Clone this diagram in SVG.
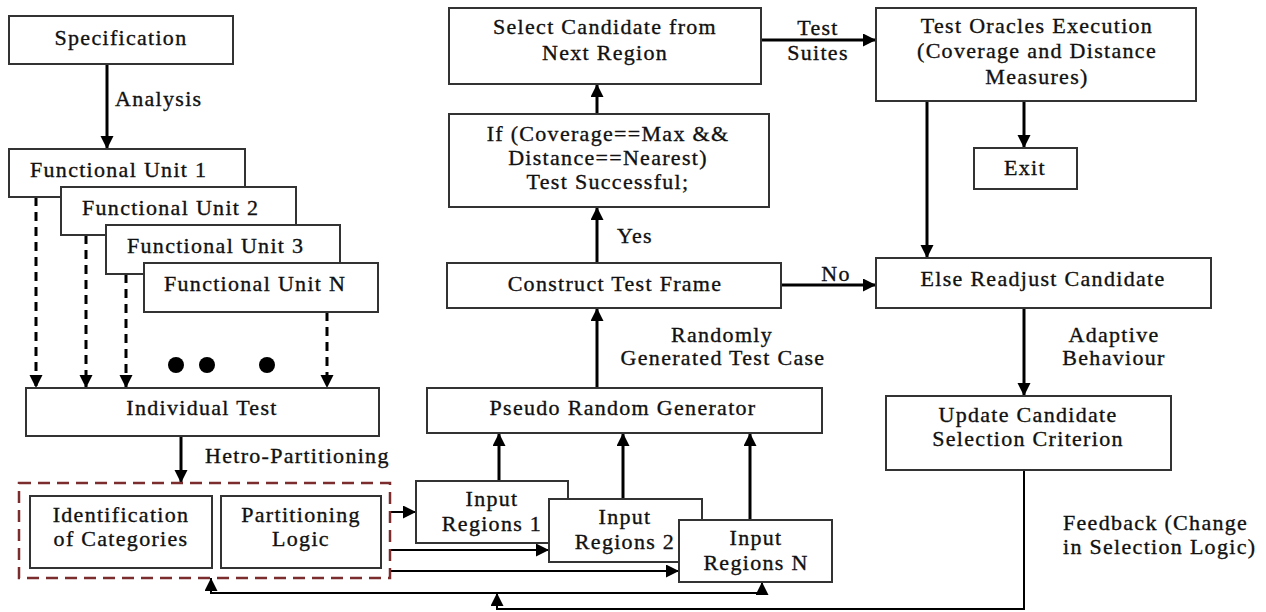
<svg xmlns="http://www.w3.org/2000/svg" width="1266" height="612" viewBox="0 0 1266 612">
<style>
.box{fill:#fff;stroke:#333;stroke-width:2}
.t{font-family:"Liberation Serif","Times New Roman",serif;font-size:22px;fill:#111;letter-spacing:1.3px;stroke:#111;stroke-width:0.35}
.c{text-anchor:middle}
.a{fill:none;stroke:#000;stroke-width:3}
.a2{fill:none;stroke:#000;stroke-width:2}
.d{fill:none;stroke:#000;stroke-width:3;stroke-dasharray:9 6}
</style>
<defs>
<marker id="ah" markerUnits="userSpaceOnUse" markerWidth="14" markerHeight="14" refX="13" refY="6.5" orient="auto">
<path d="M0,0 L13,6.5 L0,13 z" fill="#000"/>
</marker>
</defs>
<g id="connectors">
<path class="a" d="M107,64 V149" marker-end="url(#ah)"/>
<path class="d" d="M36,197 V388" marker-end="url(#ah)"/>
<path class="d" d="M86,235 V388" marker-end="url(#ah)"/>
<path class="d" d="M126,274 V388" marker-end="url(#ah)"/>
<path class="d" d="M327,312 V388" marker-end="url(#ah)"/>
<path class="a" d="M181,436 V483" marker-end="url(#ah)"/>
<path class="a2" d="M390,512 H416" marker-end="url(#ah)"/>
<path class="a2" d="M390,550 H549" marker-end="url(#ah)"/>
<path class="a2" d="M390,571 H679" marker-end="url(#ah)"/>
<path class="a" d="M499,481 V433" marker-end="url(#ah)"/>
<path class="a" d="M623,499 V433" marker-end="url(#ah)"/>
<path class="a" d="M750,520 V433" marker-end="url(#ah)"/>
<path class="a" d="M597,388 V308" marker-end="url(#ah)"/>
<path class="a" d="M597,263 V207" marker-end="url(#ah)"/>
<path class="a" d="M597,114 V84" marker-end="url(#ah)"/>
<path class="a" d="M761,40 H876" marker-end="url(#ah)"/>
<path class="a" d="M781,285 H876" marker-end="url(#ah)"/>
<path class="a" d="M1024,101 V148" marker-end="url(#ah)"/>
<path class="a" d="M927,101 V258" marker-end="url(#ah)"/>
<path class="a" d="M1024,308 V396" marker-end="url(#ah)"/>
<path class="a2" d="M1024,470 V609 H497 V593" marker-end="url(#ah)"/>
<path class="a2" d="M497,593 H211 V578" marker-end="url(#ah)"/>
<path class="a2" d="M497,593 H762 V582" marker-end="url(#ah)"/>
<text class="t" x="115" y="106">Analysis</text>
<text class="t" x="205" y="463">Hetro-Partitioning</text>
<text class="t" x="617" y="243">Yes</text>
<text class="t c" x="722" y="342">Randomly</text>
<text class="t c" x="723" y="365">Generated Test Case</text>
<text class="t c" x="818" y="35">Test</text>
<text class="t c" x="818" y="60">Suites</text>
<text class="t c" x="836" y="281">No</text>
<text class="t c" x="1114" y="342">Adaptive</text>
<text class="t c" x="1114" y="365">Behaviour</text>
<text class="t" x="1063" y="530">Feedback (Change</text>
<text class="t" x="1063" y="554">in Selection Logic)</text>
</g>
<g id="spec"><rect class="box" x="9" y="16" width="224" height="48"/><text class="t c" x="121" y="45">Specification</text></g>
<g id="fu1"><rect class="box" x="9" y="149" width="236" height="48"/><text class="t" x="30" y="177">Functional Unit 1</text></g>
<g id="fu2"><rect class="box" x="61" y="187" width="235" height="48"/><text class="t" x="82" y="215">Functional Unit 2</text></g>
<g id="fu3"><rect class="box" x="106" y="225" width="234" height="49"/><text class="t" x="127" y="253">Functional Unit 3</text></g>
<g id="fun"><rect class="box" x="144" y="263" width="234" height="49"/><text class="t" x="164" y="291">Functional Unit N</text></g>
<g id="dots"><circle cx="176" cy="365" r="8" fill="#000"/><circle cx="207" cy="365" r="8" fill="#000"/><circle cx="267" cy="365" r="8" fill="#000"/></g>
<g id="individual"><rect class="box" x="26" y="388" width="353" height="48"/><text class="t c" x="202" y="415">Individual Test</text></g>
<g id="partition-group"><rect x="19" y="483" width="371" height="95" fill="none" stroke="#7b2c2c" stroke-width="2.5" stroke-dasharray="12 7"/></g>
<g id="identification"><rect class="box" x="30" y="496" width="182" height="72"/><text class="t c" x="121" y="522">Identification</text><text class="t c" x="121" y="546">of Categories</text></g>
<g id="partlogic"><rect class="box" x="221" y="496" width="160" height="72"/><text class="t c" x="301" y="522">Partitioning</text><text class="t c" x="301" y="546">Logic</text></g>
<g id="ir1"><rect class="box" x="416" y="481" width="152" height="62"/><text class="t c" x="492" y="506">Input</text><text class="t c" x="492" y="531">Regions 1</text></g>
<g id="ir2"><rect class="box" x="549" y="499" width="153" height="63"/><text class="t c" x="625" y="524">Input</text><text class="t c" x="625" y="549">Regions 2</text></g>
<g id="irn"><rect class="box" x="679" y="520" width="153" height="62"/><text class="t c" x="756" y="545">Input</text><text class="t c" x="756" y="570">Regions N</text></g>
<g id="prg"><rect class="box" x="427" y="388" width="395" height="45"/><text class="t c" x="623" y="415">Pseudo Random Generator</text></g>
<g id="construct"><rect class="box" x="447" y="263" width="334" height="45"/><text class="t c" x="615" y="291">Construct Test Frame</text></g>
<g id="ifbox"><rect class="box" x="449" y="114" width="320" height="93"/><text class="t c" x="608" y="141">If (Coverage==Max &amp;&amp;</text><text class="t c" x="608" y="165">Distance==Nearest)</text><text class="t c" x="608" y="189">Test Successful;</text></g>
<g id="select"><rect class="box" x="449" y="8" width="312" height="76"/><text class="t c" x="605" y="34">Select Candidate from</text><text class="t c" x="605" y="60">Next Region</text></g>
<g id="oracles"><rect class="box" x="876" y="8" width="320" height="93"/><text class="t c" x="1037" y="33">Test Oracles Execution</text><text class="t c" x="1037" y="58">(Coverage and Distance</text><text class="t c" x="1037" y="84">Measures)</text></g>
<g id="exit"><rect class="box" x="974" y="148" width="103" height="41"/><text class="t c" x="1025" y="175">Exit</text></g>
<g id="else"><rect class="box" x="876" y="258" width="335" height="50"/><text class="t c" x="1043" y="286">Else Readjust Candidate</text></g>
<g id="update"><rect class="box" x="886" y="396" width="285" height="74"/><text class="t c" x="1028" y="422">Update Candidate</text><text class="t c" x="1028" y="446">Selection Criterion</text></g>
</svg>
